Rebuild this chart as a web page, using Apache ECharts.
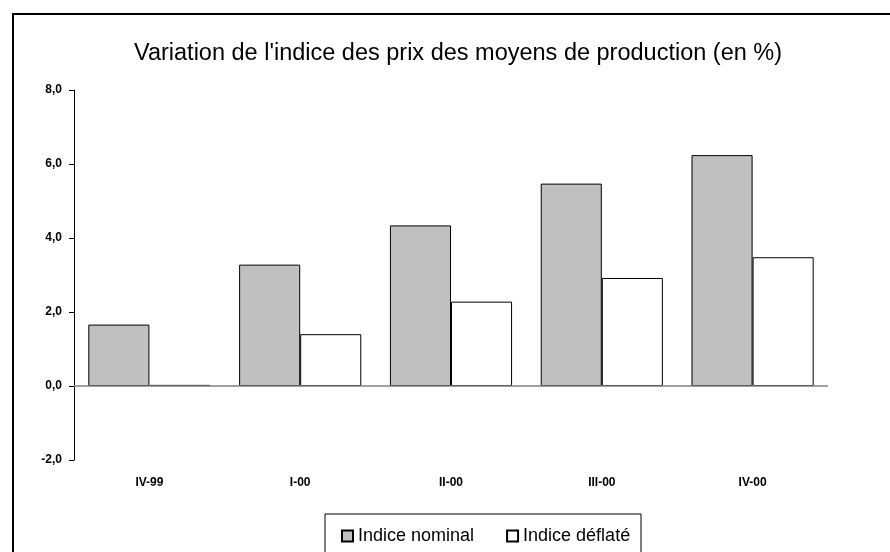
<!DOCTYPE html>
<html>
<head>
<meta charset="utf-8">
<script src="https://cdn.jsdelivr.net/npm/echarts@6/dist/echarts.min.js"></script>
<style>
html, body { margin: 0; padding: 0; background: #fff; }
#chart { width: 890px; height: 552px; }
</style>
</head>
<body>
<div id="chart"></div>
<script>
// données
var trimestres = ['IV-99', 'I-00', 'II-00', 'III-00', 'IV-00'];
var indiceNominal = [1.66, 3.28, 4.34, 5.47, 6.24];
var indiceDeflate = [0.03, 1.40, 2.28, 2.92, 3.48];

var police = 'Liberation Sans, Arial, sans-serif';

var chart = echarts.init(document.getElementById('chart'));
var option = {
	animation: false,
	backgroundColor: '#fff',
	title: {
		text: "Variation de l'indice des prix des moyens de production (en %)",
		left: 129,
		top: 37,
		textStyle: { fontFamily: police, fontSize: 23.5, fontWeight: 'normal', color: '#000' }
	},
	legend: {
		data: ['Indice nominal', 'Indice déflaté'],
		left: 336,
		top: 522,
		icon: 'rect',
		itemWidth: 11,
		itemHeight: 11,
		itemGap: 32,
		textStyle: { fontFamily: police, fontSize: 18, color: '#000' }
	},
	grid: { left: 74, right: 62, top: 90, bottom: 92 },
	xAxis: {
		type: 'category',
		data: trimestres,
		axisLine: { show: false, onZero: false },
		axisTick: { show: false },
		axisLabel: { margin: 17, fontFamily: police, fontSize: 12, fontWeight: 'bold', color: '#000' }
	},
	yAxis: {
		type: 'value',
		min: -2,
		max: 8,
		interval: 2,
		splitLine: { show: false },
		axisLine: { show: true, lineStyle: { color: '#000', width: 1 } },
		axisTick: { show: true, length: 5, lineStyle: { color: '#000' } },
		axisLabel: {
			margin: 12,
			fontFamily: police,
			fontSize: 12,
			fontWeight: 'bold',
			color: '#000',
			formatter: function(v) { return v.toFixed(1).replace('.', ','); }
		}
	},
	series: [
		{
			name: 'Indice nominal',
			type: 'bar',
			data: indiceNominal,
			barGap: '0%',
			barCategoryGap: '19%',
			itemStyle: { color: '#c0c0c0', borderColor: '#000', borderWidth: 1 },
			markLine: {
				silent: true,
				symbol: 'none',
				label: { show: false },
				lineStyle: { color: '#808080', type: 'solid', width: 1.5 },
				data: [{ yAxis: 0 }]
			},
			z: 3
		},
		{
			name: 'Indice déflaté',
			type: 'bar',
			data: indiceDeflate,
			itemStyle: { color: '#fff', borderColor: '#000', borderWidth: 1 },
			z: 3
		}
	],
	graphic: [
		{
			type: 'rect',
			shape: { x: 13, y: 14, width: 900, height: 560 },
			style: { fill: null, stroke: '#000', lineWidth: 2 },
			silent: true
		},
		{
			type: 'rect',
			shape: { x: 325, y: 514, width: 316, height: 60 },
			style: { fill: null, stroke: '#000', lineWidth: 1 },
			silent: true
		}
	]
};
chart.setOption(option);
</script>
</body>
</html>
